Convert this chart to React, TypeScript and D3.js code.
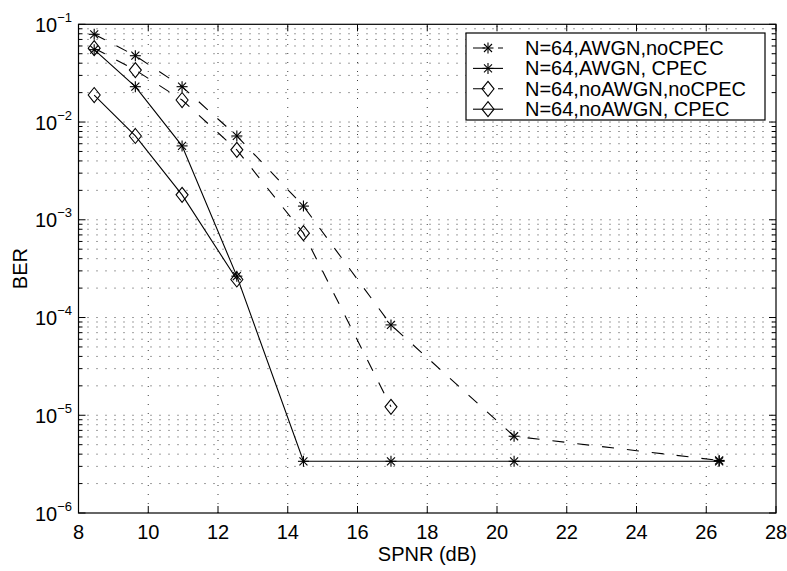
import React from "react";
import * as d3 from "d3";

const snr = [8.45, 9.63, 10.97, 12.54, 14.45, 16.96, 20.49, 26.37];
const berAwgnNoCpec = [0.079, 0.0477, 0.023, 0.0072, 0.00138, 8.4e-5, 6.1e-6, 3.45e-6];
const berAwgnCpec = [0.055, 0.023, 0.0057, 2.65e-4, 3.38e-6, 3.38e-6, 3.38e-6, 3.38e-6];
const berNoAwgnNoCpec = [0.057, 0.034, 0.0168, 0.0052, 7.3e-4, 1.22e-5];
const berNoAwgnCpec = [0.0189, 0.0072, 0.0018, 2.45e-4];

const xTicks = [8, 10, 12, 14, 16, 18, 20, 22, 24, 26, 28];
const yDecades = [-6, -5, -4, -3, -2, -1];

const seriesNames = [
  "N=64,AWGN,noCPEC",
  "N=64,AWGN, CPEC",
  "N=64,noAWGN,noCPEC",
  "N=64,noAWGN, CPEC",
];

const W = 787;
const H = 571;
const L = 78.5, R = 776, T = 24.3, B = 513;
const FONT = "'Liberation Sans', Arial, Helvetica, sans-serif";
const DASH = "12,13";

const x = d3.scaleLinear().domain([8, 28]).range([L, R]);
const y = d3.scaleLog().domain([1e-6, 1e-1]).range([B, T]);

type Series = { vals: number[]; dashed: boolean; marker: "star" | "diamond"; name: string };
const series: Series[] = [
  { vals: berAwgnNoCpec, dashed: true, marker: "star", name: seriesNames[0] },
  { vals: berAwgnCpec, dashed: false, marker: "star", name: seriesNames[1] },
  { vals: berNoAwgnNoCpec, dashed: true, marker: "diamond", name: seriesNames[2] },
  { vals: berNoAwgnCpec, dashed: false, marker: "diamond", name: seriesNames[3] },
];

function Marker({ kind, cx, cy }: { kind: string; cx: number; cy: number }) {
  if (kind === "star") {
    const r = 5.5, d = 4;
    return (
      <g stroke="#000" strokeWidth={1.1} fill="none">
        <line x1={cx - r} y1={cy} x2={cx + r} y2={cy} />
        <line x1={cx} y1={cy - r} x2={cx} y2={cy + r} />
        <line x1={cx - d} y1={cy - d} x2={cx + d} y2={cy + d} />
        <line x1={cx - d} y1={cy + d} x2={cx + d} y2={cy - d} />
      </g>
    );
  }
  const hw = 6, hh = 7.5;
  return (
    <path
      d={`M${cx},${cy - hh}L${cx + hw},${cy}L${cx},${cy + hh}L${cx - hw},${cy}Z`}
      stroke="#000"
      strokeWidth={1.1}
      fill="none"
    />
  );
}

export default function App() {
  const line = d3
    .line<[number, number]>()
    .x((d) => x(d[0]))
    .y((d) => y(d[1]));

  const minorYs: number[] = [];
  for (const e of yDecades) {
    if (e === -1) continue;
    for (let m = 1; m <= 9; m++) minorYs.push(m * Math.pow(10, e));
  }
  const gridYs = minorYs.filter((v) => v > 1e-6 * 1.01);
  const gridXs = xTicks.filter((v) => v !== 8 && v !== 28);

  const legL = 466, legR = 765, legT = 33, legB = 120;
  const rowY = (i: number) => legT + 15 + i * 20.4;

  return (
    <svg
      width={W}
      height={H}
      style={{ position: "absolute", left: 0, top: 0, background: "#fff" }}
      fontFamily={FONT}
    >
      <rect x={0} y={0} width={W} height={H} fill="#fff" />
      {/* grid */}
      <g stroke="#000" strokeWidth={1} strokeDasharray="1,8" fill="none" opacity={0.75}>
        {gridXs.map((v) => (
          <line key={"gx" + v} x1={x(v)} x2={x(v)} y1={B} y2={T} />
        ))}
        {gridYs.map((v, i) => (
          <line key={"gy" + i} x1={L} x2={R} y1={y(v)} y2={y(v)} />
        ))}
      </g>
      {/* series lines */}
      {series.map((s, i) => (
        <path
          key={"l" + i}
          d={line(s.vals.map((v, j) => [snr[j], v] as [number, number])) || ""}
          stroke="#000"
          strokeWidth={1.1}
          fill="none"
          strokeDasharray={s.dashed ? DASH : undefined}
        />
      ))}
      {/* markers */}
      {series.map((s, i) =>
        s.vals.map((v, j) => (
          <Marker key={"m" + i + "-" + j} kind={s.marker} cx={x(snr[j])} cy={y(v)} />
        ))
      )}
      {/* axes box */}
      <rect x={L} y={T} width={R - L} height={B - T} fill="none" stroke="#000" strokeWidth={1.2} />
      {/* x ticks */}
      <g stroke="#000" strokeWidth={1}>
        {xTicks.map((v) => (
          <g key={"xt" + v}>
            <line x1={x(v)} x2={x(v)} y1={B} y2={B - 7} />
            <line x1={x(v)} x2={x(v)} y1={T} y2={T + 7} />
          </g>
        ))}
        {yDecades.map((e) => (
          <g key={"yt" + e}>
            <line x1={L} x2={L + 7} y1={y(Math.pow(10, e))} y2={y(Math.pow(10, e))} />
            <line x1={R} x2={R - 7} y1={y(Math.pow(10, e))} y2={y(Math.pow(10, e))} />
          </g>
        ))}
        {minorYs
          .filter((v, i) => i % 9 !== 0)
          .map((v, i) => (
            <g key={"ym" + i}>
              <line x1={L} x2={L + 4} y1={y(v)} y2={y(v)} />
              <line x1={R} x2={R - 4} y1={y(v)} y2={y(v)} />
            </g>
          ))}
      </g>
      {/* x tick labels */}
      <g fontSize={20} textAnchor="middle" fill="#000">
        {xTicks.map((v) => (
          <text key={"xl" + v} x={x(v)} y={538.5}>
            {v}
          </text>
        ))}
      </g>
      {/* y tick labels */}
      <g fill="#000">
        {yDecades.map((e) => (
          <text key={"yl" + e} x={72} y={y(Math.pow(10, e)) + 7.5} textAnchor="end" fontSize={20}>
            10
            <tspan fontSize={13} dy={-10}>
              {"\u2212" + Math.abs(e)}
            </tspan>
          </text>
        ))}
      </g>
      {/* axis labels */}
      <text x={(L + R) / 2} y={561} textAnchor="middle" fontSize={20} fill="#000">
        SPNR (dB)
      </text>
      <text
        transform={`translate(27, ${(T + B) / 2}) rotate(-90)`}
        textAnchor="middle"
        fontSize={20}
        fill="#000"
      >
        BER
      </text>
      {/* legend */}
      <rect x={legL} y={legT} width={legR - legL} height={legB - legT} fill="#fff" stroke="#000" strokeWidth={1.2} />
      {series.map((s, i) => (
        <g key={"lg" + i}>
          <line
            x1={473}
            x2={503}
            y1={rowY(i)}
            y2={rowY(i)}
            stroke="#000"
            strokeWidth={1.1}
            strokeDasharray={s.dashed ? DASH : undefined}
          />
          <Marker kind={s.marker} cx={488} cy={rowY(i)} />
          <text x={525} y={rowY(i) + 7} fontSize={20} fill="#000">
            {s.name}
          </text>
        </g>
      ))}
    </svg>
  );
}
